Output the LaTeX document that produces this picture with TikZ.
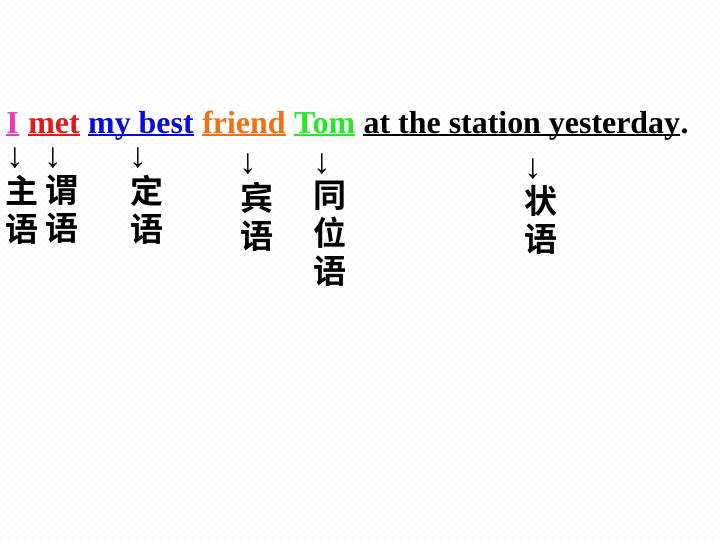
\documentclass[tikz,border=0pt]{standalone}
\usepackage{fontspec}
\setmainfont{Liberation Serif}
\newfontfamily\cjk[BoldFont={* Bold}]{Noto Sans CJK SC}
\usetikzlibrary{calc,patterns}

\definecolor{wpink}{RGB}{232,60,180}
\definecolor{wred}{RGB}{228,26,26}
\definecolor{wblue}{RGB}{10,10,220}
\definecolor{worange}{RGB}{240,112,20}
\definecolor{wgreen}{RGB}{40,230,40}

\pgfdeclarepatternformonly{bgdots}{\pgfqpoint{0pt}{0pt}}{\pgfqpoint{5.7pt}{5.7pt}}{\pgfqpoint{5.7pt}{5.7pt}}%
{\pgfpathcircle{\pgfqpoint{1.4pt}{1.4pt}}{0.35pt}\pgfpathcircle{\pgfqpoint{4.25pt}{4.25pt}}{0.35pt}\pgfusepath{fill}}

\begin{document}
\begin{tikzpicture}[x=0.025cm,y=-0.025cm]
\tikzstyle{word}=[inner sep=0pt,anchor=base west,font=\fontsize{22.7pt}{27pt}\selectfont\bfseries]
\tikzstyle{uline}=[line width=1.8pt]
\tikzstyle{down}=[inner sep=0pt,anchor=north,font=\fontsize{25pt}{25pt}\selectfont]
\tikzstyle{role}=[inner sep=0pt,anchor=north,align=center,font=\cjk\bfseries\fontsize{23.5pt}{27pt}\selectfont]

\useasboundingbox (0,0) rectangle (720,540);
\fill[pattern=bgdots,pattern color=black!18] (0,0) rectangle (720,540);

% ========= sentence
\node (I) [word,wpink] at (6,133) {I};
\node (met) [word,wred] at ($(I.base east)+(9,0)$) {met};
\node (mybest) [word,wblue] at ($(met.base east)+(8,0)$) {my best};
\node (friend) [word,worange] at ($(mybest.base east)+(8,0)$) {friend};
\node (tom) [word,wgreen] at ($(friend.base east)+(8,0)$) {Tom};
\node (rest) [word] at ($(tom.base east)+(8,0)$) {at the station yesterday};
\node (stop) [word] at (rest.base east) {.};
\foreach \w/\c in {I/wpink,met/wred,mybest/wblue,friend/worange,tom/wgreen,rest/black}
  \draw [uline,\c] ($(\w.base west)+(0,2)$) -- ($(\w.base east)+(0,2)$);

% ========= arrows
\node (dsubj) [down] at (15,147) {↓};
\node (dpred) [down] at (53,147) {↓};
\node (dattr) [down] at (138,147) {↓};
\node (dobj) [down] at (248,153) {↓};
\node (dappos) [down] at (322,153) {↓};
\node (dadvl) [down] at (533,158) {↓};

% ========= roles
\node (subj) [role] at (22,175) {主\\语};
\node (pred) [role] at (62,175) {谓\\语};
\node (attr) [role] at (147,175) {定\\语};
\node (obj) [role] at (257,182) {宾\\语};
\node (appos) [role] at (330,181) {同\\位\\语};
\node (advl) [role] at (541,185) {状\\语};
\end{tikzpicture}
\end{document}
